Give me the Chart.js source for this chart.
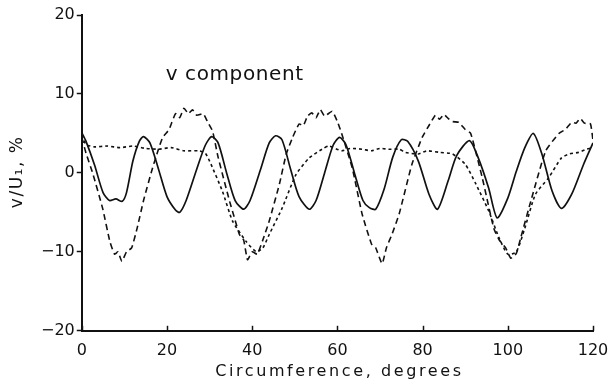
<!DOCTYPE html>
<html>
<head>
<meta charset="utf-8">
<script src="https://cdn.jsdelivr.net/npm/chart.js@4"></script>
<style>
  html, body { margin: 0; padding: 0; background: #fff; }
  canvas { display: block; }
</style>
</head>
<body>
<canvas id="chart" width="615" height="389"></canvas>
<script>
// solid line
var solidX = [0, 1, 3, 5, 6.5, 8, 9.5, 10.5, 12, 13.5, 14.5, 16, 18, 20, 22, 23, 24.5, 27, 29, 30.5,
    32, 34, 36, 38, 39.5, 42, 44, 45.5, 47, 49, 51, 53.4, 55, 57, 59, 60.5, 62, 64, 66, 67.5,
    69, 71, 73, 75, 76.5, 79, 81.5, 83.5, 86, 88, 91, 93, 95.5, 97.5, 100, 102, 104, 106, 108, 110.4,
    112.6, 115, 117.8, 120];
var solidY = [5.1, 4.0, 1.0, -2.5, -3.5, -3.3, -3.6, -2.5, 1.5, 4.0, 4.6, 3.8, 0.5, -3, -4.7, -5, -3.5, 0.5, 3.5, 4.6,
    3.8, 0, -3.5, -4.6, -3.5, 0.5, 3.8, 4.7, 4.2, 0.5, -3, -4.6, -3.5, 0, 3.5, 4.5, 3.6, 0, -3.5, -4.4,
    -4.6, -2, 2, 4.2, 4.0, 1.5, -2.7, -4.6, -1, 2.2, 4.1, 2, -1.9, -5.7, -3.2, 0.2, 3.2, 5.0, 2.4, -2.3,
    -4.5, -2.7, 1.1, 3.8];

// long-dash line
var dashX = [0, 1, 2.6, 4.9, 6.6, 7.7, 8.5, 9.4, 10.5, 11.7, 13, 14.5, 16.6, 18, 19, 20.5, 22, 23, 24, 25,
    26, 27, 28.5, 29.5, 30.7, 32, 34.7, 36, 37, 38, 38.9, 40, 41.2, 42.5, 44, 46.4, 48, 49.5, 51, 52,
    53, 54, 55, 56, 57, 58.8, 60, 61, 63.5, 65.8, 68, 69, 70.5, 71.5, 72.8, 74.5, 77.5, 79.9, 81.5, 83,
    84, 85, 86, 87, 88.5, 90, 91.3, 94, 96.7, 98, 99.5, 100.7, 102, 103, 105.6, 108.9, 112, 113.5, 115, 116,
    117, 118, 119.4, 120];
var dashY = [4.5, 2.5, -0.1, -4.5, -8.7, -10.3, -10, -11.2, -10, -9.5, -7, -3.5, 0.6, 3, 4.5, 5.5, 7.5, 7, 8.2, 7.5,
    8, 7.3, 7.5, 6.5, 5.3, 2, -3.6, -6, -7.8, -8.5, -11, -10, -10.3, -8.5, -6.1, -1.4, 2.4, 4.5, 6.2, 6,
    7.2, 7.6, 7, 8, 7.2, 7.8, 6.5, 5, 0.6, -5.2, -9, -9.5, -11.5, -9.5, -7.8, -5.2, 1.1, 4.5, 6, 7.3,
    6.8, 7.4, 6.9, 6.5, 6.4, 5.5, 5, -0.6, -7, -8.5, -9.5, -10.8, -10.2, -8.3, -3.2, 2.8, 5, 5.5, 6.4, 6.3,
    6.9, 6.3, 6.2, 4.1];

// short-dash line
var dotX = [0, 1, 3, 6, 9, 12, 15, 18, 21, 24, 27.6, 29, 30, 33, 35.4, 38.6, 41, 42.5, 44, 47,
    50.3, 53.4, 56.4, 58, 61, 63, 65.8, 68, 70, 72, 74.5, 76, 79, 81, 84, 87, 90, 92.5, 95.5, 98,
    100, 102, 104, 106.5, 109.6, 112.6, 114.5, 116.6, 118.5, 120];
var dotY = [4.8, 3.6, 3.3, 3.4, 3.2, 3.4, 3.1, 3.0, 3.2, 2.8, 2.8, 2.5, 1.5, -2.3, -6.1, -8.7, -10, -9.5, -7.8, -4.5,
    -0.2, 1.9, 3, 3.4, 2.8, 3.1, 3, 2.8, 3.1, 3, 3, 2.6, 2.4, 2.8, 2.6, 2.4, 1.1, -1.4, -4.8, -8.3,
    -10.3, -10, -7, -2.7, -0.6, 1.9, 2.4, 2.6, 3.0, 3.2];

var xTicks = [0, 20, 40, 60, 80, 100, 120];
var yTicks = [-20, -10, 0, 10, 20];

function pts(xs, ys) {
    return xs.map(function (x, i) { return { x: x, y: ys[i] }; });
}

var FONT = '"DejaVu Sans", sans-serif';

// titles (letter-spaced), note text, inward x ticks
var extras = {
    id: 'extras',
    afterDraw: function (chart) {
        var ctx = chart.ctx;
        var xs = chart.scales.x, ys = chart.scales.y, a = chart.chartArea;
        ctx.save();
        ctx.fillStyle = '#111';
        ctx.textBaseline = 'middle';

        ctx.font = '20px ' + FONT;
        ctx.letterSpacing = '0.6px';
        ctx.textAlign = 'left';
        ctx.fillText('v component', xs.getPixelForValue(19.7), ys.getPixelForValue(12.4));

        ctx.font = '16px ' + FONT;
        ctx.letterSpacing = '2.6px';
        ctx.textAlign = 'center';
        ctx.fillText('Circumference, degrees', (a.left + a.right) / 2 + 2, 372);

        ctx.save();
        ctx.font = '17px ' + FONT;
        ctx.letterSpacing = '1.5px';
        ctx.translate(18, (a.top + a.bottom) / 2 - 1);
        ctx.rotate(-Math.PI / 2);
        ctx.fillText('v/U\u2081, %', 0, 0);
        ctx.restore();

        ctx.letterSpacing = '0px';
        ctx.strokeStyle = '#111';
        ctx.lineWidth = 1.5;
        xTicks.forEach(function (t) {
            var px = Math.round(xs.getPixelForValue(t)) + 0.5;
            ctx.beginPath();
            ctx.moveTo(px, a.bottom);
            ctx.lineTo(px, a.bottom - 5);
            ctx.stroke();
        });
        ctx.restore();
    }
};

new Chart(document.getElementById('chart').getContext('2d'), {
    type: 'line',
    data: {
        datasets: [{
            data: pts(solidX, solidY),
            borderColor: '#111',
            borderWidth: 1.7,
            pointRadius: 0,
            tension: 0.25
        }, {
            data: pts(dashX, dashY),
            borderColor: '#111',
            borderWidth: 1.6,
            borderDash: [6, 4],
            pointRadius: 0,
            tension: 0.15
        }, {
            data: pts(dotX, dotY),
            borderColor: '#111',
            borderWidth: 1.6,
            borderDash: [3, 3],
            pointRadius: 0,
            tension: 0.2
        }]
    },
    options: {
        responsive: false,
        animation: false,
        layout: { padding: { top: 15, right: 22, bottom: 27, left: 39 } },
        plugins: { legend: { display: false }, tooltip: { enabled: false } },
        scales: {
            x: {
                type: 'linear',
                min: 0, max: 120,
                afterBuildTicks: function (s) { s.ticks = xTicks.map(function (v) { return { value: v }; }); },
                ticks: { color: '#111', font: { family: FONT, size: 16 }, padding: 2, maxRotation: 0 },
                grid: { display: false },
                border: { display: true, color: '#111', width: 2 }
            },
            y: {
                min: -20, max: 20,
                afterBuildTicks: function (s) { s.ticks = yTicks.map(function (v) { return { value: v }; }); },
                ticks: {
                    color: '#111', font: { family: FONT, size: 16 }, padding: 2,
                    callback: function (v) { return v < 0 ? '\u2212' + Math.abs(v) : String(v); }
                },
                grid: { display: true, drawOnChartArea: false, drawTicks: true, tickLength: 5, color: '#111', tickWidth: 1.5 },
                border: { display: true, color: '#111', width: 2 }
            }
        }
    },
    plugins: [extras]
});
</script>
</body>
</html>
